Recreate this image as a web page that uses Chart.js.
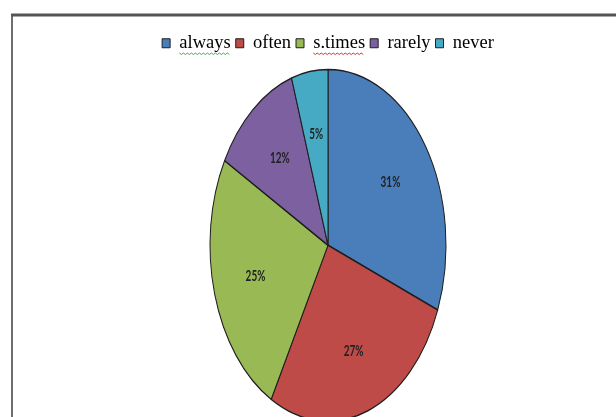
<!DOCTYPE html>
<html>
<head>
<meta charset="utf-8">
<script src="https://cdn.jsdelivr.net/npm/chart.js@4/dist/chart.umd.min.js"></script>
<style>
  html, body { margin: 0; padding: 0; background: #fff; overflow: hidden; }
  #wrap { position: relative; width: 616px; height: 440px; }
</style>
</head>
<body>
<div id="wrap"><canvas id="myChart"></canvas></div>
<script>
const labels = ['always', 'often', 's.times', 'rarely', 'never'];
const shares = [31, 27, 25, 12, 5];
const colors = ['#4a7ebb', '#be4b48', '#98b954', '#7d60a0', '#46aac5'];
// legend entries underlined by the word processor's spell checker
const squiggles = { 'always': '#3cb043', 's.times': '#e03030' };

const yStretch = 1.49;

// draws the pie squashed into an upright ellipse, with the % labels inside
const stretchPie = {
  id: 'stretchPie',
  beforeDatasetsDraw(chart) {
    const arc = chart.getDatasetMeta(0).data[0];
    const ctx = chart.ctx;
    ctx.save();
    ctx.translate(0, arc.y);
    ctx.scale(1, yStretch);
    ctx.translate(0, -arc.y);
  },
  afterDatasetsDraw(chart) {
    const ctx = chart.ctx;
    const data = chart.data.datasets[0].data;
    ctx.font = 'bold 10px Lato';
    ctx.fillStyle = '#222';
    ctx.textAlign = 'center';
    ctx.textBaseline = 'middle';
    chart.getDatasetMeta(0).data.forEach((arc, i) => {
      const mid = (arc.startAngle + arc.endAngle) / 2;
      const r = arc.outerRadius * 0.64;
      ctx.fillText(data[i] + '%', arc.x + Math.cos(mid) * r, arc.y + Math.sin(mid) * r);
    });
    ctx.restore();
  }
};

const frame = {
  id: 'frame',
  beforeDraw(chart) {
    const ctx = chart.ctx;
    ctx.save();
    ctx.fillStyle = '#fff';
    ctx.fillRect(0, 0, chart.width, chart.height);
    ctx.strokeStyle = '#6e6e6e';
    ctx.lineWidth = 2;
    ctx.beginPath();
    ctx.moveTo(12, chart.height);
    ctx.lineTo(12, 15);
    ctx.stroke();
    ctx.strokeStyle = '#555';
    ctx.lineWidth = 3;
    ctx.beginPath();
    ctx.moveTo(11, 15);
    ctx.lineTo(chart.width, 15);
    ctx.stroke();
    ctx.restore();
  },
  afterDraw(chart) {
    const legend = chart.legend;
    const ctx = chart.ctx;
    const size = legend.options.labels.font.size;
    const bw = legend.options.labels.boxWidth;
    ctx.save();
    ctx.lineWidth = 1;
    legend.legendItems.forEach((item, i) => {
      const col = squiggles[item.text];
      if (!col) return;
      const box = legend.legendHitBoxes[i];
      const x0 = box.left + bw + size / 2;
      const x1 = box.left + box.width;
      const y = box.top + box.height / 2 + size / 2 + 1;
      ctx.strokeStyle = col;
      ctx.beginPath();
      for (let x = x0, k = 0; x <= x1; x += 2, k++) {
        const yy = y + (k % 2 ? 1 : -0.5);
        if (k === 0) ctx.moveTo(x, yy); else ctx.lineTo(x, yy);
      }
      ctx.stroke();
    });
    ctx.restore();
  }
};

new Chart(document.getElementById('myChart'), {
  type: 'pie',
  data: {
    labels: labels,
    datasets: [{
      data: shares,
      backgroundColor: colors,
      borderColor: '#1e1e1e',
      borderWidth: 1,
      radius: 118,
      clip: false
    }]
  },
  options: {
    responsive: true,
    maintainAspectRatio: false,
    animation: false,
    layout: { padding: { left: 40, right: 0, top: 29, bottom: 12 } },
    plugins: {
      tooltip: { enabled: false },
      legend: {
        position: 'top',
        labels: {
          boxWidth: 8,
          boxHeight: 9,
          padding: 5,
          color: '#000',
          font: { family: 'Liberation Serif', size: 18.5 }
        }
      }
    }
  },
  plugins: [frame, stretchPie]
});
</script>
</body>
</html>
